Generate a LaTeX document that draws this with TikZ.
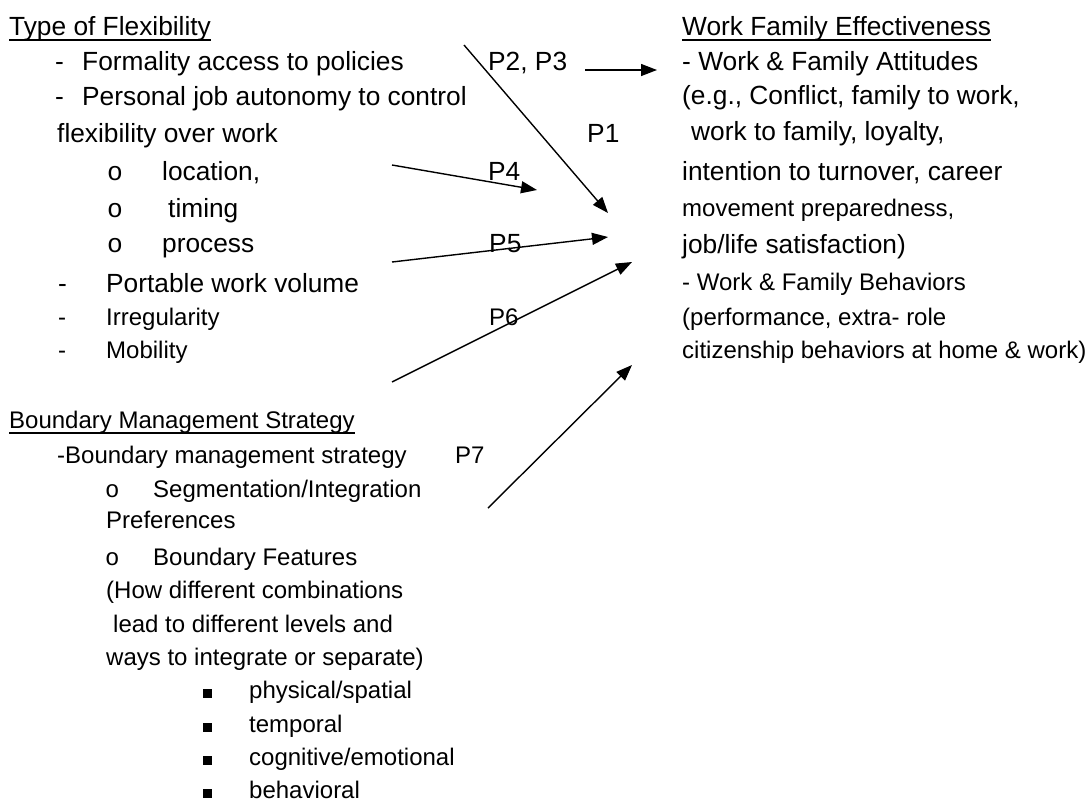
\documentclass[tikz,border=0pt]{standalone}
\usepackage{fontspec}
\setmainfont{Liberation Sans}
\newfontfamily\bulfont{Liberation Mono}
\usetikzlibrary{arrows.meta}
\newcommand{\Lg}{\fontsize{26.3}{30}\selectfont}
\newcommand{\Sm}{\fontsize{24}{28}\selectfont}
\newcommand{\obul}{{\bulfont o}}
\newcommand{\sqbul}{\rule[0.5pt]{8.5pt}{8.5pt}}
\begin{document}
\begin{tikzpicture}[x=1pt,y=-1pt,
  txt/.style={inner sep=0pt, anchor=base west, font=\Lg},
  stxt/.style={inner sep=0pt, anchor=base west, font=\Sm},
  ul/.style={line width=1.8pt},
  arr/.style={line width=1.4pt, -{Triangle[length=16pt,width=12pt]}}]
\useasboundingbox (0,0) rectangle (1091,804);
\fill[white] (0,0) rectangle (1091,804);
% left column: type of flexibility
\node[txt] (h1) at (9,35) {Type of Flexibility~};
\node[txt] (l1) at (55,70) {\makebox[27pt][l]{-}Formality access to policies};
\node[txt] (l2) at (55,105) {\makebox[27pt][l]{-}Personal job autonomy to control};
\node[txt] (l3) at (57,142) {flexibility over work};
\node[txt] (l4) at (107,180) {\makebox[55pt][l]{\obul}location,};
\node[txt] (l5) at (107,217) {\makebox[61pt][l]{\obul}timing};
\node[txt] (l6) at (107,252) {\makebox[55pt][l]{\obul}process};
\node[txt] (l7) at (58,292) {\makebox[48pt][l]{-}Portable work volume};
\node[stxt] (l8) at (58,325) {\makebox[48pt][l]{-}Irregularity};
\node[stxt] (l9) at (58,358) {\makebox[48pt][l]{-}Mobility};
% boundary management
\node[stxt] (h2) at (9,428) {Boundary Management Strategy};
\node[stxt] (b1) at (57,463) {-Boundary management strategy};
\node[stxt] (b2) at (105,497) {\makebox[48pt][l]{\obul}Segmentation/Integration};
\node[stxt] (b3) at (106,528) {Preferences};
\node[stxt] (b4) at (105,565) {\makebox[48pt][l]{\obul}Boundary Features};
\node[stxt] (b5) at (106,598) {(How different combinations};
\node[stxt] (b6) at (113,632) {lead to different levels and};
\node[stxt] (b7) at (106,665) {ways to integrate or separate)};
\node[stxt] (b8) at (203,698) {\makebox[46pt][l]{\sqbul}physical/spatial};
\node[stxt] (b9) at (203,732) {\makebox[46pt][l]{\sqbul}temporal};
\node[stxt] (b10) at (203,765) {\makebox[46pt][l]{\sqbul}cognitive/emotional};
\node[stxt] (b11) at (203,798) {\makebox[46pt][l]{\sqbul}behavioral};
% right column
\node[txt] (r0) at (682,35) {Work Family Effectiveness};
\node[txt] (r1) at (682,70) {- Work \& Family Attitudes};
\node[txt] (r2) at (682,104) {(e.g., Conflict, family to work,};
\node[txt] (r3) at (691,140) {work to family, loyalty,};
\node[txt] (r4) at (682,180) {intention to turnover, career};
\node[stxt] (r5) at (682,216) {movement preparedness,};
\node[txt] (r6) at (682,253) {job/life satisfaction)};
\node[stxt] (r7) at (682,290) {- Work \& Family Behaviors};
\node[stxt] (r8) at (682,325) {(performance, extra- role};
\node[stxt] (r9) at (682,358) {citizenship behaviors at home \& work)};
% underlines
\draw[ul] ([yshift=-5pt]h1.base west) -- ([yshift=-5pt]h1.base east);
\draw[ul] ([yshift=-5pt]h2.base west) -- ([yshift=-5pt]h2.base east);
\draw[ul] ([yshift=-5pt]r0.base west) -- ([yshift=-5pt]r0.base east);
% proposition labels
\node[txt] (p23) at (488,70) {P2, P3};
\node[txt] (p1) at (587,142) {P1};
\node[txt] (p4) at (488,180) {P4};
\node[txt] (p5) at (489,252) {P5};
\node[stxt] (p6) at (489,325) {P6};
\node[stxt] (p7) at (455,463) {P7};
% arrow end points
\coordinate (a1s) at (464,45);  \coordinate (a1e) at (608,213);
\coordinate (a2s) at (585,70);  \coordinate (a2e) at (657,70);
\coordinate (a4s) at (392,165); \coordinate (a4e) at (537,190);
\coordinate (a5s) at (392,262); \coordinate (a5e) at (608,237);
\coordinate (a6s) at (392,382); \coordinate (a6e) at (632,262);
\coordinate (a7s) at (488,508); \coordinate (a7e) at (632,365);
\draw[arr] (a1s) -- (a1e);
\draw[arr] (a2s) -- (a2e);
\draw[arr] (a4s) -- (a4e);
\draw[arr] (a5s) -- (a5e);
\draw[arr] (a6s) -- (a6e);
\draw[arr] (a7s) -- (a7e);
\end{tikzpicture}
\end{document}
